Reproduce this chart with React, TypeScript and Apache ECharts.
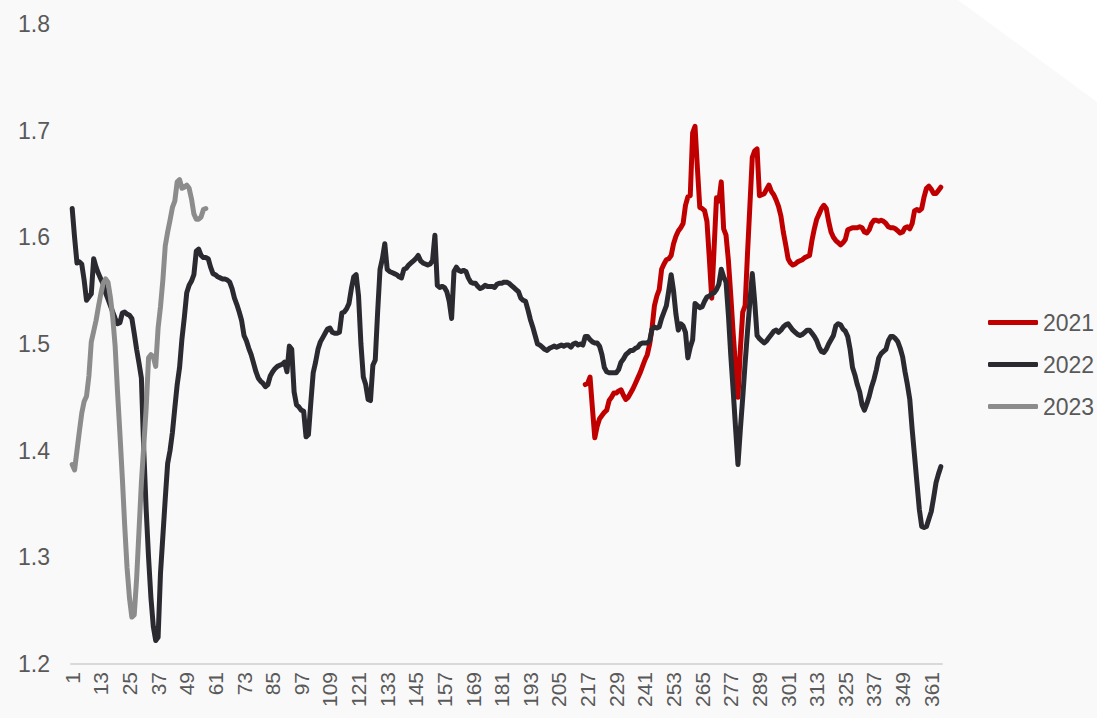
import React, { useEffect, useRef } from "react";
import * as echarts from "echarts";

// Day-of-year categories 1..365
const days: string[] = Array.from({ length: 365 }, (_, i) => String(i + 1));

// 2021: values from day 216 to day 365
const start2021 = 216;
const values2021: number[] = [
  1.462, 1.463, 1.469, 1.440, 1.412, 1.423, 1.430, 1.433, 1.436, 1.438, // 216-225
  1.447, 1.450, 1.454, 1.454, 1.456, 1.457, 1.452, 1.448, 1.450, 1.454, // 226-235
  1.458, 1.463, 1.468, 1.473, 1.479, 1.485, 1.490, 1.500, 1.515, 1.536, // 236-245
  1.545, 1.551, 1.570, 1.575, 1.579, 1.580, 1.583, 1.594, 1.601, 1.606, // 246-255
  1.609, 1.613, 1.630, 1.638, 1.639, 1.698, 1.704, 1.665, 1.628, 1.627, // 256-265
  1.625, 1.615, 1.580, 1.543, 1.590, 1.637, 1.634, 1.652, 1.608, 1.602, // 266-275
  1.578, 1.545, 1.510, 1.478, 1.450, 1.495, 1.530, 1.536, 1.585, 1.630, // 276-285
  1.675, 1.681, 1.683, 1.639, 1.640, 1.641, 1.645, 1.649, 1.643, 1.640, // 286-295
  1.635, 1.629, 1.620, 1.605, 1.593, 1.580, 1.576, 1.574, 1.575, 1.577, // 296-305
  1.578, 1.579, 1.581, 1.582, 1.583, 1.597, 1.608, 1.617, 1.622, 1.627, // 306-315
  1.630, 1.627, 1.615, 1.605, 1.600, 1.597, 1.595, 1.593, 1.595, 1.598, // 316-325
  1.607, 1.608, 1.609, 1.609, 1.609, 1.610, 1.609, 1.605, 1.604, 1.607, // 326-335
  1.613, 1.616, 1.616, 1.615, 1.616, 1.615, 1.613, 1.610, 1.609, 1.609, // 336-345
  1.608, 1.606, 1.604, 1.605, 1.609, 1.610, 1.608, 1.613, 1.625, 1.626, // 346-355
  1.625, 1.627, 1.638, 1.646, 1.648, 1.645, 1.641, 1.641, 1.644, 1.647, // 356-365
];

// 2022: full year, day 1..365
const values2022: number[] = [
  1.627, 1.600, 1.576, 1.577, 1.575, 1.560, 1.541, 1.544, 1.547, 1.580, // 1-10
  1.572, 1.566, 1.561, 1.556, 1.548, 1.542, 1.536, 1.530, 1.524, 1.519, // 11-20
  1.520, 1.529, 1.530, 1.528, 1.527, 1.524, 1.510, 1.495, 1.482, 1.468, // 21-30
  1.400, 1.345, 1.300, 1.262, 1.235, 1.222, 1.225, 1.285, 1.320, 1.355, // 31-40
  1.388, 1.400, 1.417, 1.440, 1.462, 1.478, 1.505, 1.525, 1.548, 1.555, // 41-50
  1.559, 1.565, 1.587, 1.589, 1.583, 1.581, 1.581, 1.580, 1.572, 1.566, // 51-60
  1.565, 1.563, 1.562, 1.561, 1.561, 1.560, 1.558, 1.552, 1.543, 1.537, // 61-70
  1.530, 1.522, 1.508, 1.503, 1.496, 1.490, 1.482, 1.474, 1.468, 1.465, // 71-80
  1.463, 1.460, 1.462, 1.470, 1.474, 1.477, 1.479, 1.480, 1.481, 1.483, // 81-90
  1.474, 1.498, 1.495, 1.455, 1.443, 1.441, 1.438, 1.437, 1.413, 1.415, // 91-100
  1.445, 1.473, 1.483, 1.495, 1.502, 1.506, 1.510, 1.514, 1.515, 1.511, // 101-110
  1.510, 1.510, 1.511, 1.529, 1.530, 1.533, 1.538, 1.552, 1.563, 1.565, // 111-120
  1.545, 1.500, 1.469, 1.462, 1.448, 1.447, 1.480, 1.485, 1.530, 1.570, // 121-130
  1.580, 1.594, 1.570, 1.568, 1.567, 1.566, 1.565, 1.563, 1.562, 1.570, // 131-140
  1.571, 1.574, 1.576, 1.578, 1.580, 1.583, 1.578, 1.576, 1.575, 1.574, // 141-150
  1.575, 1.578, 1.602, 1.555, 1.553, 1.554, 1.553, 1.549, 1.540, 1.524, // 151-160
  1.568, 1.572, 1.569, 1.568, 1.569, 1.568, 1.562, 1.558, 1.557, 1.557, // 161-170
  1.554, 1.552, 1.553, 1.555, 1.554, 1.554, 1.554, 1.553, 1.556, 1.557, // 171-180
  1.557, 1.558, 1.558, 1.557, 1.555, 1.553, 1.551, 1.549, 1.543, 1.541, // 181-190
  1.540, 1.532, 1.523, 1.516, 1.508, 1.500, 1.499, 1.497, 1.495, 1.494, // 191-200
  1.496, 1.497, 1.498, 1.497, 1.498, 1.499, 1.498, 1.499, 1.499, 1.497, // 201-210
  1.500, 1.501, 1.499, 1.500, 1.499, 1.507, 1.507, 1.504, 1.502, 1.501, // 211-220
  1.501, 1.498, 1.490, 1.478, 1.474, 1.473, 1.473, 1.473, 1.473, 1.476, // 221-230
  1.483, 1.486, 1.490, 1.492, 1.494, 1.494, 1.496, 1.497, 1.500, 1.501, // 231-240
  1.501, 1.501, 1.503, 1.514, 1.516, 1.515, 1.516, 1.524, 1.530, 1.536, // 241-250
  1.550, 1.565, 1.550, 1.528, 1.513, 1.519, 1.517, 1.511, 1.487, 1.497, // 251-260
  1.504, 1.538, 1.536, 1.534, 1.535, 1.540, 1.544, 1.545, 1.547, 1.548, // 261-270
  1.551, 1.556, 1.570, 1.563, 1.558, 1.527, 1.489, 1.456, 1.421, 1.387, // 271-280
  1.420, 1.450, 1.482, 1.512, 1.540, 1.566, 1.540, 1.508, 1.505, 1.503, // 281-290
  1.501, 1.503, 1.506, 1.509, 1.512, 1.513, 1.511, 1.513, 1.516, 1.518, // 291-300
  1.519, 1.516, 1.513, 1.511, 1.509, 1.508, 1.509, 1.511, 1.513, 1.513, // 301-310
  1.510, 1.507, 1.503, 1.497, 1.493, 1.492, 1.495, 1.500, 1.504, 1.508, // 311-320
  1.517, 1.519, 1.518, 1.514, 1.512, 1.507, 1.495, 1.478, 1.471, 1.462, // 321-330
  1.455, 1.443, 1.438, 1.444, 1.451, 1.460, 1.467, 1.476, 1.487, 1.491, // 331-340
  1.493, 1.495, 1.503, 1.507, 1.507, 1.505, 1.502, 1.496, 1.488, 1.474, // 341-350
  1.462, 1.448, 1.420, 1.395, 1.370, 1.345, 1.329, 1.328, 1.329, 1.336, // 351-360
  1.343, 1.356, 1.370, 1.378, 1.385, // 361-365
];

// 2023: day 1..57
const values2023: number[] = [
  1.387, 1.382, 1.400, 1.418, 1.435, 1.446, 1.451, 1.470, 1.502, 1.512, // 1-10
  1.522, 1.535, 1.547, 1.557, 1.561, 1.558, 1.544, 1.525, 1.498, 1.455, // 11-20
  1.416, 1.375, 1.330, 1.290, 1.262, 1.244, 1.246, 1.280, 1.325, 1.370, // 21-30
  1.405, 1.440, 1.487, 1.490, 1.488, 1.479, 1.515, 1.535, 1.560, 1.592, // 31-40
  1.605, 1.616, 1.628, 1.634, 1.652, 1.654, 1.646, 1.647, 1.649, 1.646, // 41-50
  1.636, 1.622, 1.617, 1.617, 1.619, 1.626, 1.627, // 51-57
];

const seriesNames = ["2021", "2022", "2023"];
const seriesColors = ["#c00000", "#2a2a30", "#8c8c8c"];

const FONT = "'Liberation Sans', Arial, sans-serif";

export default function App() {
  const ref = useRef<HTMLDivElement>(null);

  useEffect(() => {
    if (!ref.current) return;
    const chart = echarts.init(ref.current, undefined, { renderer: "svg" });

    const d2021: (number | null)[] = days.map((_, i) => {
      const k = i + 1 - start2021;
      return k >= 0 && k < values2021.length ? values2021[k] : null;
    });
    const d2022: (number | null)[] = days.map((_, i) => (i < values2022.length ? values2022[i] : null));
    const d2023: (number | null)[] = days.map((_, i) => (i < values2023.length ? values2023[i] : null));
    const datas = [d2021, d2022, d2023];

    chart.setOption({
      animation: false,
      backgroundColor: "#f9f9f9",
      graphic: [
        {
          type: "polygon",
          silent: true,
          z: -10,
          shape: { points: [[958, 0], [1097, 0], [1097, 102]] },
          style: { fill: "#ffffff" },
        },
      ],
      grid: { left: 71, right: 155, top: 24, bottom: 54, containLabel: false },
      legend: {
        orient: "vertical",
        left: 983,
        top: 306,
        itemWidth: 50,
        itemHeight: 5,
        itemGap: 19,
        icon: "roundRect",
        data: seriesNames,
        textStyle: { color: "#595959", fontSize: 23, fontFamily: FONT, padding: [0, 0, 0, 0] },
      },
      xAxis: {
        type: "category",
        data: days,
        boundaryGap: true,
        axisLine: { show: true, lineStyle: { color: "#d9d9d9", width: 2 } },
        axisTick: { show: false },
        axisLabel: {
          interval: 11,
          rotate: 90,
          margin: 8,
          color: "#595959",
          fontSize: 21,
          fontFamily: FONT,
        },
        splitLine: { show: false },
      },
      yAxis: {
        type: "value",
        min: 1.2,
        max: 1.8,
        interval: 0.1,
        axisLine: { show: false },
        axisTick: { show: false },
        splitLine: { show: false },
        axisLabel: {
          color: "#595959",
          fontSize: 23,
          fontFamily: FONT,
          margin: 21,
          formatter: (v: number) => v.toFixed(1),
        },
      },
      series: seriesNames.map((name, idx) => ({
        name,
        type: "line",
        data: datas[idx],
        symbol: "none",
        showSymbol: false,
        connectNulls: false,
        itemStyle: { color: seriesColors[idx] },
        lineStyle: { color: seriesColors[idx], width: 5, cap: "round", join: "round" },
        z: 2 + idx,
      })),
    });

    return () => chart.dispose();
  }, []);

  return (
    <div
      ref={ref}
      style={{ position: "absolute", left: 0, top: 0, width: 1097, height: 718 }}
    />
  );
}
